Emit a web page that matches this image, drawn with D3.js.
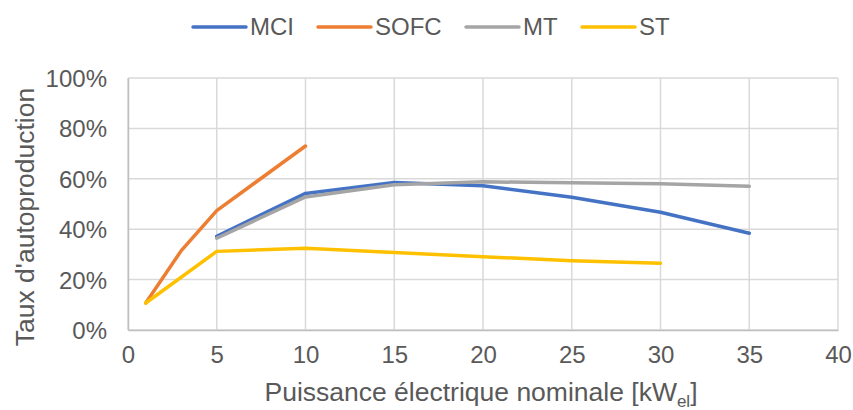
<!DOCTYPE html>
<html><head><meta charset="utf-8">
<script src="https://cdn.jsdelivr.net/npm/d3@7"></script>
<style>body{margin:0;background:#fff;} svg{display:block;font-family:"Liberation Sans",Arial,sans-serif;}</style>
</head><body><svg id="c" width="853" height="410"></svg>
<script>
const seriesNames = ["MCI","SOFC","MT","ST"];
const colors = ["#4472C4","#ED7D31","#A5A5A5","#FFC000"];
const mciX = [5,10,15,20,25,30,35];
const mciY = [37.2,54.2,58.5,57.2,52.7,46.7,38.4];
const sofcX = [1,3,5,10];
const sofcY = [10.7,31.5,47.4,73.0];
const mtX = [5,10,15,20,25,30,35];
const mtY = [36.4,52.8,57.6,58.8,58.4,58.0,57.0];
const stX = [1,5,10,15,20,25,30];
const stY = [10.7,31.2,32.4,30.8,29.1,27.5,26.5];
const xTicks = [0,5,10,15,20,25,30,35,40];
const yTicks = [0,20,40,60,80,100];

const svg = d3.select("#c");
const L=128, R=838, T=78, B=330;
const x = d3.scaleLinear().domain([0,40]).range([L,R]);
const y = d3.scaleLinear().domain([0,100]).range([B,T]);
const txt = "#595959";

// grid
svg.append("g").selectAll("line").data(yTicks).join("line")
  .attr("x1",L).attr("x2",R).attr("y1",d=>y(d)).attr("y2",d=>y(d))
  .attr("stroke","#d9d9d9").attr("stroke-width",1.5);
svg.append("g").selectAll("line").data(xTicks).join("line")
  .attr("y1",T).attr("y2",B).attr("x1",d=>x(d)).attr("x2",d=>x(d))
  .attr("stroke","#d9d9d9").attr("stroke-width",1.5);
// axes
const xa = svg.append("g").attr("transform",`translate(0,${B})`)
  .call(d3.axisBottom(x).tickValues(xTicks).tickSize(0).tickPadding(16));
const ya = svg.append("g").attr("transform",`translate(${L},0)`)
  .call(d3.axisLeft(y).tickValues(yTicks).tickSize(0).tickPadding(21).tickFormat(d=>d+"%"));
[xa,ya].forEach(a=>{
  a.select(".domain").attr("stroke","#bfbfbf").attr("stroke-width",1.5);
  a.selectAll("text").attr("fill",txt).style("font-size","24px").style("font-family","Liberation Sans, Arial, sans-serif");
});
ya.selectAll("text").attr("dy","0.35em");

// lines
const data = [[mciX,mciY],[sofcX,sofcY],[mtX,mtY],[stX,stY]];
const line = d3.line().x(d=>x(d[0])).y(d=>y(d[1]));
data.forEach((s,i)=>{
  const pts = s[0].map((v,j)=>[v,s[1][j]]);
  svg.append("path").datum(pts).attr("d",line).attr("fill","none")
    .attr("stroke",colors[i]).attr("stroke-width",3.5).attr("stroke-linejoin","round").attr("stroke-linecap","round");
});

// legend
const legX = [193,318,466,582];
seriesNames.forEach((n,i)=>{
  const g = svg.append("g");
  g.append("line").attr("x1",legX[i]).attr("x2",legX[i]+53).attr("y1",27).attr("y2",27)
    .attr("stroke",colors[i]).attr("stroke-width",3.5).attr("stroke-linecap","round");
  g.append("text").attr("x",legX[i]+57).attr("y",27).attr("dy","0.35em")
    .attr("fill",txt).style("font-size","24px").text(n);
});

// axis titles
const xt = svg.append("text").attr("x",(L+R)/2 - 2).attr("y",401).attr("text-anchor","middle")
  .attr("fill",txt).style("font-size","26.5px");
xt.append("tspan").text("Puissance électrique nominale [kW");
xt.append("tspan").attr("dy",6).style("font-size","17px").text("el");
xt.append("tspan").attr("dy",-6).text("]");
svg.append("text").attr("transform",`translate(34,217) rotate(-90)`)
  .attr("text-anchor","middle").attr("fill",txt).style("font-size","26.5px").text("Taux d'autoproduction");
</script></body></html>
